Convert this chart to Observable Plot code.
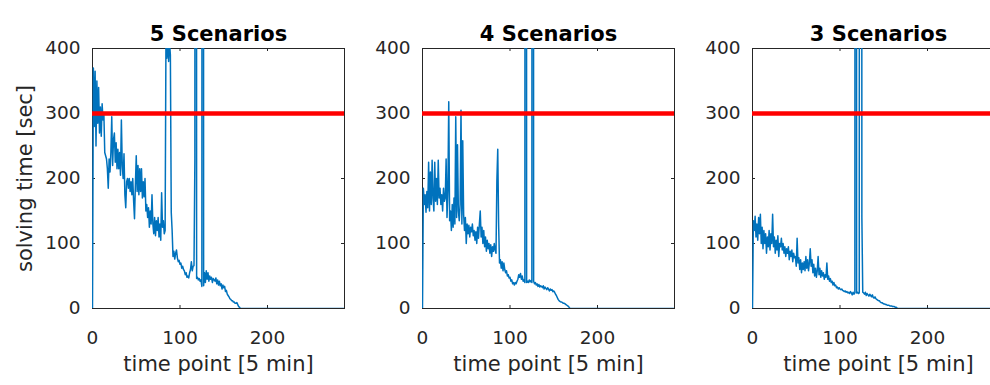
<!DOCTYPE html>
<html>
<head>
<meta charset="utf-8">
<script src="https://cdn.jsdelivr.net/npm/d3@7"></script>
<script src="https://cdn.jsdelivr.net/npm/@observablehq/plot@0.6"></script>
<style>
  html, body { margin: 0; padding: 0; background: #fff; overflow: hidden; }
  #wrap { position: relative; width: 990px; height: 385px; overflow: hidden; }
  #wrap svg { position: absolute; top: 0; }
</style>
</head>
<body>
<div id="wrap"></div>
<script>
// ---- data ----
const titles = ["5 Scenarios", "4 Scenarios", "3 Scenarios"];
const xLabel = "time point [5 min]";
const yLabel = "solving time [sec]";
const xTicks = [0, 100, 200];
const yTicks = [0, 100, 200, 300, 400];
const timeLimit = 300;
const lastTimePoint = 288;

// solving time per time point, starting at time point 0; zero afterwards until lastTimePoint
const scen5 = [0,370,280,365,250,350,285,340,270,310,265,315,290,300,240,235,230,215,185,230,
  210,240,295,220,260,270,225,255,215,245,215,240,205,290,220,200,238,175,155,195,
  200,185,200,180,195,175,200,165,138,190,235,180,220,175,215,180,215,170,195,172,
  200,150,160,140,155,125,150,130,175,130,115,140,112,135,120,140,110,130,105,178,
  125,135,115,120,430,385,420,380,410,390,148,120,80,88,76,85,90,78,72,74,
  68,70,62,65,60,58,52,55,48,50,47,55,60,72,58,65,66,228,5000,46,
  48,44,46,42,44,34,5000,35,55,40,58,45,55,42,50,45,48,40,46,44,
  42,47,38,44,36,42,35,38,30,36,32,34,26,28,22,20,18,15,14,12,
  12,10,10,8,8,9,6,3,2,0];

const scen4 = [0,185,160,175,148,180,155,225,150,210,160,228,170,150,225,165,200,160,228,170,
  185,160,175,150,185,165,170,230,140,180,318,135,150,120,160,125,170,130,295,140,
  252,150,135,160,305,130,258,145,120,140,100,130,115,128,110,125,118,130,112,120,
  105,118,100,125,108,130,150,110,125,100,120,95,110,88,105,92,100,85,98,80,
  95,88,100,90,85,197,245,130,70,75,62,72,58,70,60,55,58,50,52,47,
  48,42,44,38,40,36,40,38,42,45,52,48,54,45,50,42,44,40,5000,40,
  42,40,44,41,43,40,5000,42,38,40,36,38,34,37,33,35,34,32,35,30,
  33,31,29,32,30,27,30,28,29,26,27,25,22,20,17,14,12,11,10,10,
  9,8,8,7,6,5,4,3,1,0];

const scen3 = [0,135,120,142,110,130,105,140,115,145,100,125,92,120,100,115,85,110,95,120,
  90,115,100,145,95,110,85,105,90,112,80,100,95,108,90,100,85,95,80,92,
  85,95,75,88,80,90,72,85,78,80,65,108,70,78,60,75,55,70,60,72,
  58,80,62,75,58,70,92,65,75,55,68,50,62,48,58,80,52,62,48,58,
  50,55,45,52,48,70,45,50,42,46,40,42,36,40,35,36,32,33,30,32,
  30,29,30,28,27,26,27,25,26,24,25,23,26,24,21,25,22,24,5000,24,
  25,23,24,5000,5000,140,25,24,22,25,20,23,21,19,22,20,18,21,17,16,
  18,15,14,13,12,12,10,9,9,8,7,7,6,6,5,5,5,4,4,4,
  3,3,3,2,2,1,0];

const series = [scen5, scen4, scen3];

// ---- drawing ----
const INK = "#262626";
const wrap = document.getElementById("wrap");

series.forEach((values, k) => {
  const data = values.map((v, i) => ({t: i, v})).concat([{t: lastTimePoint, v: 0}]);
  const marks = [
    Plot.frame({stroke: INK, strokeWidth: 1}),
    Plot.tickX(xTicks, {x: d => d, insetTop: 257, stroke: INK}),
    Plot.tickX(xTicks, {x: d => d, insetBottom: 257, stroke: INK}),
    Plot.tickY(yTicks, {y: d => d, insetRight: 249, stroke: INK}),
    Plot.tickY(yTicks, {y: d => d, insetLeft: 249, stroke: INK}),
    Plot.axisX(xTicks, {tickSize: 0, tickPadding: 22, label: null, fill: INK}),
    Plot.axisY(yTicks, {tickSize: 0, tickPadding: 12, label: null, fill: INK}),
    Plot.line(data, {x: "t", y: "v", stroke: "#0072BD", strokeWidth: 1.5, clip: true}),
    Plot.ruleY([timeLimit], {stroke: "#ff0000", strokeWidth: 4.5}),
    Plot.text([titles[k]], {frameAnchor: "top", dy: -22.5, fontWeight: "bold", fontSize: 21, fill: "#000"}),
    Plot.text([xLabel], {frameAnchor: "bottom", dy: 62, fontSize: 21, fill: INK})
  ];
  if (k === 0) {
    marks.push(Plot.text([yLabel], {frameAnchor: "left", dx: -67, rotate: -90, textAnchor: "middle", fontSize: 21, fill: INK}));
  }
  const svg = Plot.plot({
    width: 360,
    height: 385,
    marginLeft: 92,
    marginRight: 16,
    marginTop: 48,
    marginBottom: 77,
    style: {background: "transparent", overflow: "visible", fontFamily: "'DejaVu Sans', sans-serif", fontSize: "18.5px", color: INK, maxWidth: "none"},
    x: {domain: [0, lastTimePoint]},
    y: {domain: [0, 400]},
    marks
  });
  svg.style.left = (k * 330) + "px";
  wrap.appendChild(svg);
});
</script>
</body>
</html>
